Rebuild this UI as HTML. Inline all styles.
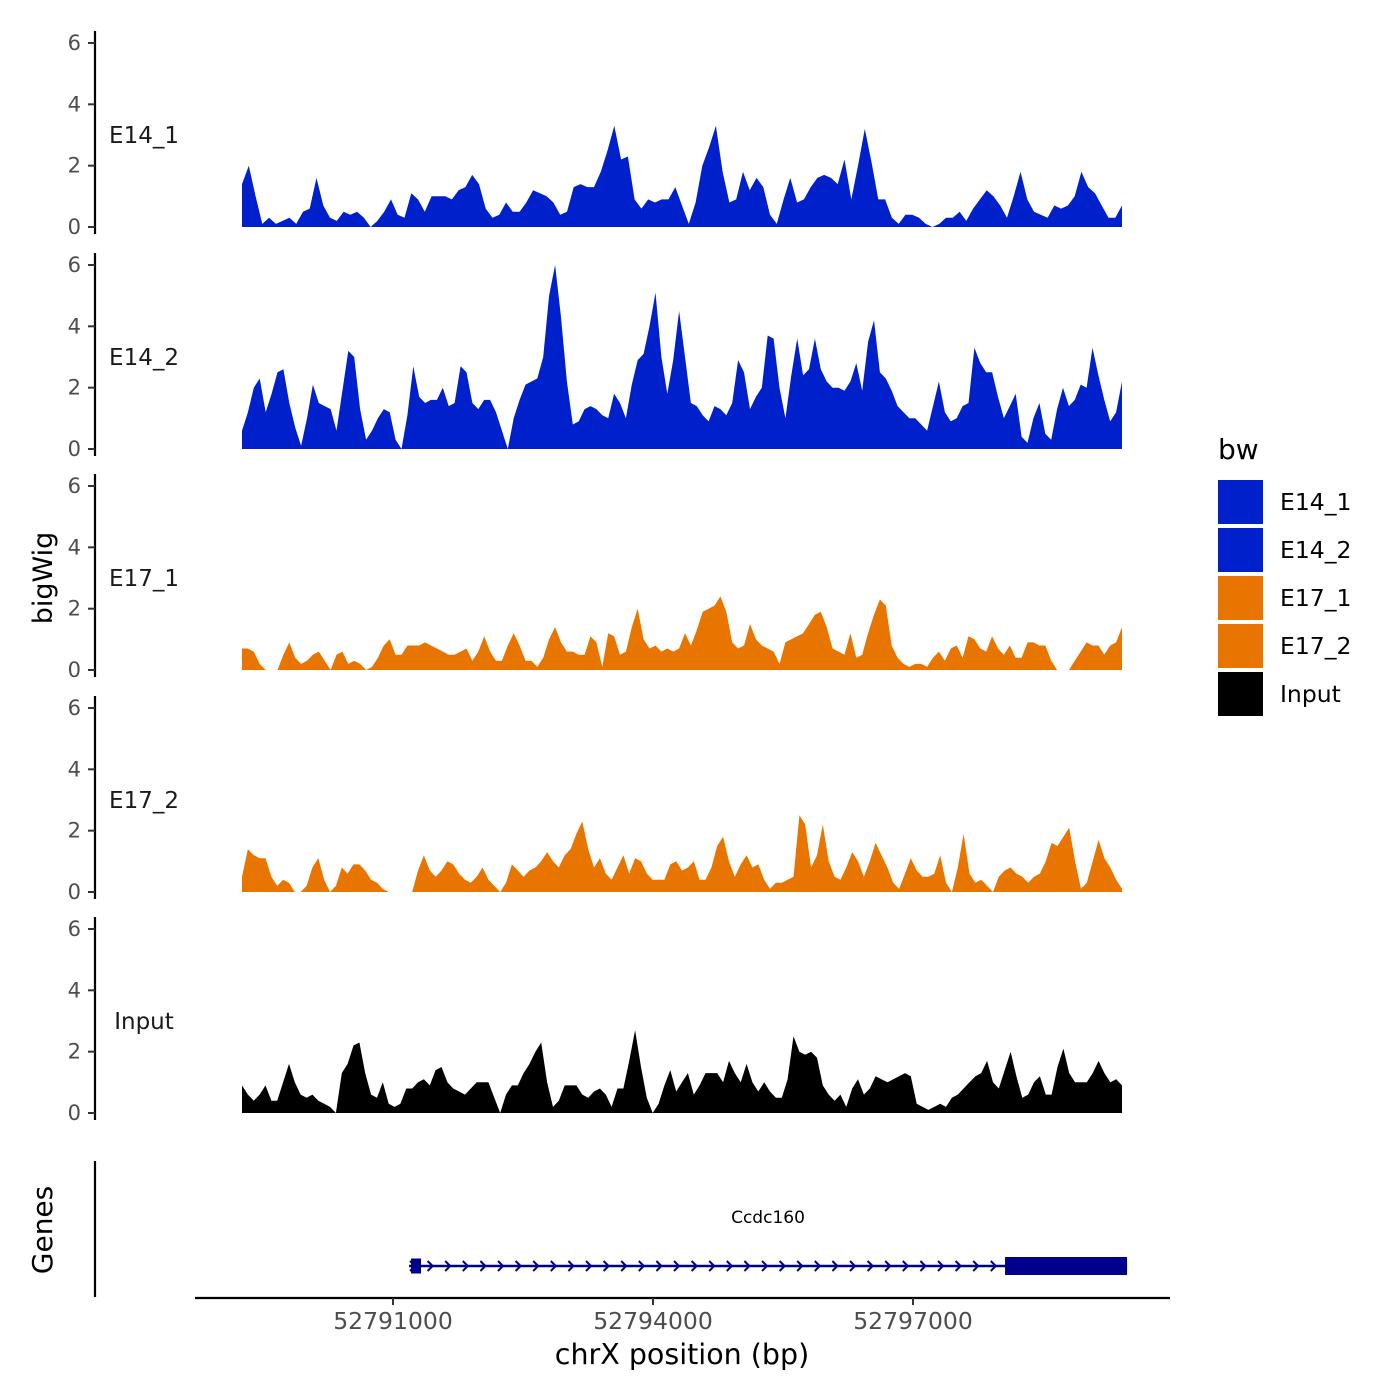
<!DOCTYPE html>
<html><head><meta charset="utf-8">
<style>
html,body{margin:0;padding:0;background:#fff;}
svg{display:block;font-family:"DejaVu Sans","Liberation Sans",sans-serif;}
</style></head>
<body>
<svg id="chart" width="1400" height="1400" viewBox="0 0 1400 1400">
</svg>
<script>
const trackNames = ["E14_1","E14_2","E17_1","E17_2","Input"];
const trackColors = ["#0020CC","#0020CC","#E87500","#E87500","#000000"];
const yTicks = [0,2,4,6];
const xTickValues = [52791000,52794000,52797000];
const xTickLabels = ["52791000","52794000","52797000"];
const regionStart = 52789258;
const regionEnd = 52799412;
const geneName = "Ccdc160";
const geneStart = 52791185;
const geneEnd = 52799470;
const exonStarts = [52791208, 52798062];
const exonEnds = [52791323, 52799470];

const e14_1 = [1.4,2.0,1.0,0.1,0.3,0.1,0.2,0.3,0.1,0.5,0.6,1.6,0.7,0.3,0.2,0.5,0.4,0.5,0.3,0.0,0.2,0.5,0.9,0.4,0.3,1.1,0.9,0.5,1.0,1.0,1.0,0.9,1.2,1.3,1.7,1.4,0.6,0.3,0.4,0.8,0.5,0.5,0.8,1.2,1.1,1.0,0.8,0.4,0.5,1.3,1.4,1.3,1.3,1.8,2.5,3.3,2.2,2.3,0.9,0.6,0.9,0.8,0.9,0.9,1.3,0.7,0.1,0.8,2.0,2.6,3.3,1.8,0.8,0.9,1.8,1.2,1.6,1.3,0.4,0.1,0.9,1.6,0.8,0.9,1.3,1.6,1.7,1.6,1.4,2.2,0.9,2.0,3.2,2.1,0.9,0.9,0.3,0.1,0.4,0.4,0.3,0.1,0.0,0.1,0.3,0.3,0.5,0.2,0.6,0.9,1.2,1.0,0.7,0.3,1.0,1.8,0.9,0.5,0.4,0.3,0.7,0.6,0.7,1.0,1.8,1.3,1.1,0.7,0.3,0.3,0.7];
const e14_2 = [0.6,1.2,2.0,2.3,1.2,1.8,2.5,2.6,1.5,0.7,0.1,1.0,2.1,1.5,1.4,1.3,0.6,1.9,3.2,3.0,1.3,0.3,0.6,1.0,1.3,1.2,0.3,0.0,1.1,2.7,1.7,1.5,1.6,1.6,2.0,1.4,1.5,2.7,2.5,1.5,1.3,1.6,1.6,1.2,0.6,0.0,1.0,1.6,2.1,2.2,2.3,3.0,5.0,6.0,4.3,2.2,0.8,0.9,1.3,1.4,1.3,1.1,1.0,1.8,1.5,1.0,2.1,2.9,3.1,4.0,5.1,3.0,1.8,2.9,4.5,3.0,1.5,1.4,1.1,0.9,1.4,1.3,1.1,1.5,2.9,2.5,1.3,1.7,2.0,3.7,3.6,2.0,1.0,2.4,3.6,2.4,2.6,3.6,2.6,2.2,2.0,2.0,1.9,2.2,2.8,1.9,3.5,4.2,2.5,2.3,1.9,1.4,1.2,1.0,1.0,0.8,0.6,1.4,2.2,1.2,0.9,1.0,1.4,1.5,3.3,2.8,2.5,2.5,1.7,1.0,1.4,1.8,0.4,0.2,1.0,1.5,0.5,0.3,1.3,2.0,1.4,1.6,2.1,2.0,3.3,2.4,1.6,0.9,1.2,2.2];
const e17_1 = [0.7,0.7,0.6,0.2,0.0,0.0,0.0,0.5,0.9,0.4,0.2,0.3,0.5,0.6,0.3,0.0,0.5,0.6,0.2,0.3,0.2,0.0,0.1,0.4,0.8,1.0,0.5,0.5,0.8,0.8,0.8,0.9,0.8,0.7,0.6,0.5,0.5,0.6,0.7,0.3,0.6,1.1,0.6,0.3,0.3,0.8,1.2,0.8,0.3,0.3,0.1,0.4,1.0,1.4,0.9,0.6,0.6,0.5,0.5,1.1,0.9,0.1,1.2,1.1,0.5,0.6,1.4,2.0,1.0,0.7,0.8,0.6,0.7,0.6,0.7,1.2,0.8,1.3,1.9,2.0,2.1,2.4,1.9,0.9,0.7,0.8,1.5,1.0,0.8,0.7,0.6,0.2,0.9,1.0,1.1,1.2,1.5,1.8,1.9,1.4,0.7,0.6,0.5,1.2,0.4,0.5,1.2,1.8,2.3,2.1,0.8,0.4,0.2,0.1,0.2,0.2,0.1,0.4,0.6,0.3,0.7,0.8,0.4,1.1,1.0,0.7,0.6,1.1,0.7,0.5,0.8,0.4,0.4,0.9,0.9,0.8,0.8,0.3,0.0,0.0,0.0,0.3,0.6,0.9,0.8,0.8,0.5,0.8,0.9,1.4];
const e17_2 = [0.5,1.4,1.2,1.1,1.1,0.5,0.2,0.4,0.3,0.0,0.0,0.2,0.8,1.1,0.4,0.0,0.2,0.8,0.6,0.9,0.9,0.7,0.4,0.3,0.1,0.0,0.0,0.0,0.0,0.0,0.7,1.2,0.7,0.5,0.7,1.0,0.9,0.6,0.4,0.3,0.5,0.8,0.4,0.2,0.0,0.3,0.9,0.7,0.5,0.7,0.8,1.0,1.3,1.0,0.8,1.2,1.4,1.9,2.3,1.4,0.8,1.1,0.6,0.4,0.8,1.2,0.6,1.1,1.0,0.6,0.4,0.4,0.4,0.9,1.0,0.7,0.8,1.0,0.4,0.4,0.8,1.5,1.8,1.0,0.5,0.9,1.2,0.8,0.9,0.4,0.1,0.3,0.3,0.4,0.5,2.5,2.2,0.8,1.2,2.2,1.0,0.5,0.4,0.8,1.3,1.0,0.5,1.0,1.6,1.2,0.8,0.3,0.1,0.6,1.1,0.7,0.5,0.5,0.6,1.2,0.3,0.0,0.8,1.9,0.6,0.3,0.4,0.2,0.0,0.5,0.7,0.8,0.6,0.5,0.3,0.5,0.6,1.0,1.6,1.5,1.8,2.1,1.0,0.1,0.3,1.0,1.7,1.1,0.8,0.4,0.1];
const input = [0.9,0.6,0.4,0.6,0.9,0.4,0.4,1.0,1.6,1.0,0.6,0.5,0.6,0.4,0.3,0.2,0.0,1.3,1.6,2.2,2.3,1.3,0.6,0.5,1.0,0.3,0.2,0.3,0.8,0.8,1.0,1.1,0.9,1.4,1.5,1.0,0.8,0.7,0.6,0.8,1.0,1.0,1.0,0.5,0.0,0.6,0.9,0.9,1.3,1.6,2.0,2.3,1.0,0.2,0.4,0.9,0.9,0.9,0.6,0.5,0.7,0.8,0.6,0.2,0.8,0.8,1.7,2.7,1.5,0.5,0.0,0.3,0.9,1.4,0.7,1.0,1.3,0.6,0.9,1.3,1.3,1.3,1.0,1.7,1.3,1.0,1.6,1.0,0.7,1.0,0.7,0.5,0.5,1.1,2.5,2.0,1.9,2.0,1.8,0.9,0.6,0.4,0.6,0.2,0.8,1.1,0.6,0.8,1.2,1.1,1.0,1.1,1.2,1.3,1.2,0.3,0.2,0.1,0.2,0.3,0.2,0.5,0.6,0.8,1.0,1.2,1.3,1.7,1.0,0.8,1.4,2.0,1.2,0.5,0.6,1.0,1.2,0.6,0.6,1.5,2.1,1.3,1.0,1.0,1.0,1.3,1.7,1.3,1.0,1.1,0.9];
const trackValues = [e14_1, e14_2, e17_1, e17_2, input];
const legendLabels = ["E14_1","E14_2","E17_1","E17_2","Input"];

const NS = "http://www.w3.org/2000/svg";
const svg = document.getElementById("chart");
function mk(tag, attrs, parent){
  const el = document.createElementNS(NS, tag);
  for (const k in attrs) el.setAttribute(k, attrs[k]);
  (parent||svg).appendChild(el);
  return el;
}
function xScale(bp){ return 393 + (bp - 52791000) * 260 / 3000; }
const panelBase = [227, 449, 670, 892, 1113];
const pxPerUnit = 30.67;
function yScale(i, v){ return panelBase[i] - v * pxPerUnit; }

trackValues.forEach((vals, i) => {
  const g = mk("g", {});
  
  
  const ax = mk("line", {x1:95, x2:95, y1:panelBase[i]-196, y2:panelBase[i]+7, stroke:"#000", "stroke-width":2.2}, g);
  
  
  yTicks.forEach(t => {
    const y = yScale(i, t);
    const tk = mk("line", {x1:88, x2:95, y1:y, y2:y, stroke:"#333", "stroke-width":2}, g);
    
    
    const tl = mk("text", {x:81, y:y+7, "text-anchor":"end", "font-size":21, fill:"#4d4d4d"}, g);
    tl.textContent = t;
    
    
  });
  const lbl = mk("text", {x:144, y:panelBase[i]-84, "text-anchor":"middle", "font-size":23, fill:"#1a1a1a"}, g);
  lbl.textContent = trackNames[i];
  
  
  const n = vals.length;
  let d = "M" + xScale(regionStart).toFixed(1) + "," + panelBase[i];
  vals.forEach((v, j) => {
    const bp = regionStart + (regionEnd - regionStart) * j / (n - 1);
    d += " L" + xScale(bp).toFixed(1) + "," + yScale(i, v).toFixed(1);
  });
  d += " L" + xScale(regionEnd).toFixed(1) + "," + panelBase[i] + " Z";
  const area = mk("path", {d:d, fill:trackColors[i]}, g);
  
  
});

const yt = mk("text", {x:0, y:0, transform:"translate(52,578) rotate(-90)", "text-anchor":"middle", "font-size":27, fill:"#000"});
yt.textContent = "bigWig";



const gg = mk("g", {});


const gax = mk("line", {x1:95, x2:95, y1:1161, y2:1297, stroke:"#000", "stroke-width":2.2}, gg);


const gt = mk("text", {x:0, y:0, transform:"translate(52,1230) rotate(-90)", "text-anchor":"middle", "font-size":28, fill:"#000"}, gg);
gt.textContent = "Genes";


const gy = 1266;
const gl = mk("line", {x1:xScale(geneStart), x2:xScale(geneEnd), y1:gy, y2:gy, stroke:"#00008B", "stroke-width":2.5}, gg);


for (let x = 413; x < xScale(exonStarts[1]); x += 17.6) {
  const ar = mk("path", {d:`M${x-3},${gy-5} L${x+2},${gy} L${x-3},${gy+5}`, fill:"none", stroke:"#00008B", "stroke-width":2}, gg);
  
  
}
exonStarts.forEach((s, k) => {
  const x1 = xScale(s), x2 = xScale(exonEnds[k]);
  const h = k === 0 ? 15 : 18;
  const ex = mk("rect", {x:x1, y:gy-h/2, width:x2-x1, height:h, fill:"#00008B"}, gg);
  
  
});
const gn = mk("text", {x:768, y:1223, "text-anchor":"middle", "font-size":17, fill:"#000"}, gg);
gn.textContent = geneName;



const xa = mk("line", {x1:195, x2:1170, y1:1298, y2:1298, stroke:"#000", "stroke-width":2.2});


xTickValues.forEach((v, k) => {
  const x = xScale(v);
  const tk = mk("line", {x1:x, x2:x, y1:1298, y2:1305, stroke:"#333", "stroke-width":2});
  
  
  const tl = mk("text", {x:x, y:1329, "text-anchor":"middle", "font-size":23.5, fill:"#4d4d4d"});
  tl.textContent = xTickLabels[k];
  
  
});
const xt = mk("text", {x:682, y:1364, "text-anchor":"middle", "font-size":28.5, fill:"#000"});
xt.textContent = "chrX position (bp)";



const lg = mk("g", {});


const lt = mk("text", {x:1218, y:459, "font-size":28, fill:"#000"}, lg);
lt.textContent = "bw";


legendLabels.forEach((l, k) => {
  const y = 480 + k * 48;
  const r = mk("rect", {x:1218, y:y, width:45, height:44, fill:trackColors[k]}, lg);
  
  
  const t = mk("text", {x:1280, y:y+30, "font-size":23.5, fill:"#000"}, lg);
  t.textContent = l;
  
  
});
</script>
</body></html>
